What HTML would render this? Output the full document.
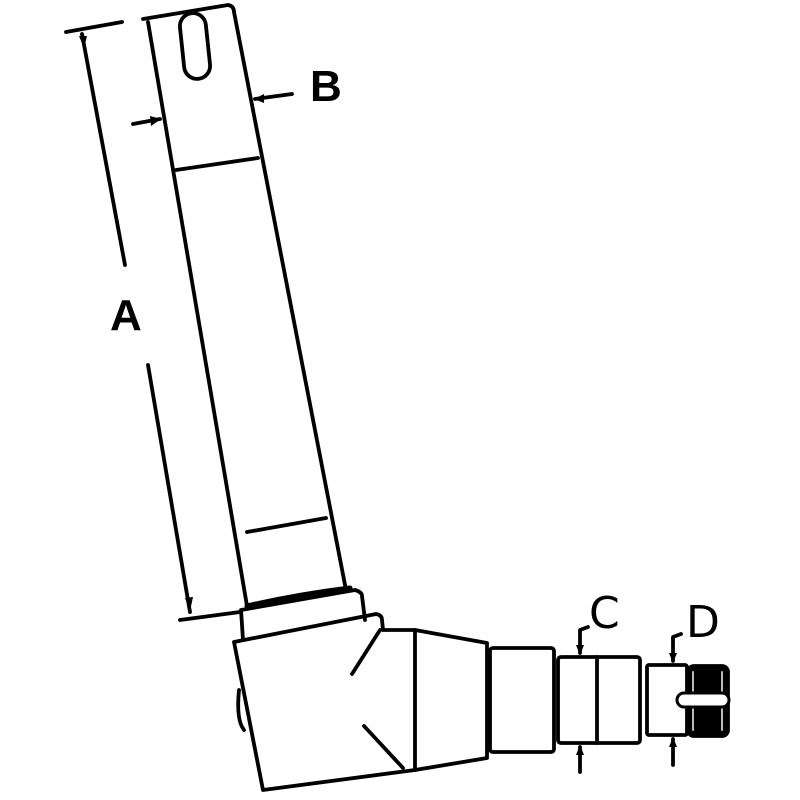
<!DOCTYPE html>
<html><head><style>body{margin:0;background:#fff}svg{display:block}</style></head><body>
<svg width="800" height="800" viewBox="0 0 800 800" xmlns="http://www.w3.org/2000/svg">
<g fill="none" stroke="#000" stroke-width="3.8" stroke-linecap="round" stroke-linejoin="round">
<!-- shaft -->
<path d="M143 19 L228 5 Q234 6 234 12"/>
<line x1="148" y1="22" x2="247" y2="606"/>
<line x1="234" y1="12" x2="346" y2="590"/>
<rect x="182" y="13" width="26" height="66" rx="13" transform="rotate(-6 195 46)"/>
<line x1="176" y1="170" x2="258" y2="158"/>
<line x1="247" y1="532" x2="326" y2="518"/>
<!-- A dimension -->
<line x1="66" y1="32" x2="122" y2="22"/>
<line x1="82" y1="34" x2="125" y2="265"/>
<line x1="148" y1="365" x2="190" y2="612"/>
<line x1="180" y1="620" x2="240" y2="612"/>
<!-- B -->
<line x1="133" y1="124" x2="160" y2="119"/>
<line x1="255" y1="99" x2="292" y2="94"/>
<!-- collar -->
<path d="M243 640 L241 610 L355 590 Q362 592 362 596 L365 620"/>
<path d="M247 606 Q300 594 350 588" stroke-width="5"/>
<!-- knuckle -->
<path d="M234 642 L376 614 Q382 615 382 620 L383 630 L415 630 L487 643 L487 758 L415 770 L263 790 L234 642 Z"/>
<line x1="415" y1="630" x2="415" y2="770"/>
<line x1="380" y1="630" x2="352" y2="674"/>
<line x1="364" y1="726" x2="403" y2="768"/>
<path d="M239 690 Q236 720 244 730"/>
<!-- cylinders -->
<rect x="490" y="648" width="64" height="104" rx="3"/>
<rect x="558" y="657" width="82" height="86" rx="3"/>
<line x1="597" y1="657" x2="597" y2="743"/>
<rect x="647" y="665" width="40" height="70" rx="2"/>
<rect x="688" y="666" width="40" height="70" rx="6" fill="#000"/>
<line x1="693" y1="672" x2="693" y2="730" stroke="#bbb" stroke-width="2"/>
<line x1="722" y1="672" x2="722" y2="730" stroke="#bbb" stroke-width="2"/>
<rect x="677" y="693" width="52" height="14" rx="7" fill="#fff" stroke-width="3"/>
<!-- C arrows -->
<path d="M588 627 L580 630 L580 653"/>
<line x1="580" y1="747" x2="580" y2="772"/>
<path d="M681 634 L673 637 L673 661"/>
<line x1="673" y1="739" x2="673" y2="765"/>
</g>
<g fill="#000">
<polygon points="576,645 584,645 580,655"/>
<polygon points="576,755 584,755 580,745"/>
<polygon points="669,653 677,653 673,663"/>
<polygon points="669,747 677,747 673,737"/>
<polygon points="79,36 87,36 84,48"/>
<polygon points="185,598 193,597 190,611"/>
<polygon points="150,116 161,119 151,126"/>
<polygon points="264,94 254,99 264,103"/>
</g>
<g font-family="Liberation Sans, sans-serif" font-weight="bold" font-size="44">
<text x="310" y="101">B</text>
<text x="110" y="330">A</text>
</g>
<g font-family="DejaVu Sans, sans-serif" font-size="44">
<text x="589" y="628">C</text>
<text x="686" y="637">D</text>
</g>
</svg>
</body></html>
